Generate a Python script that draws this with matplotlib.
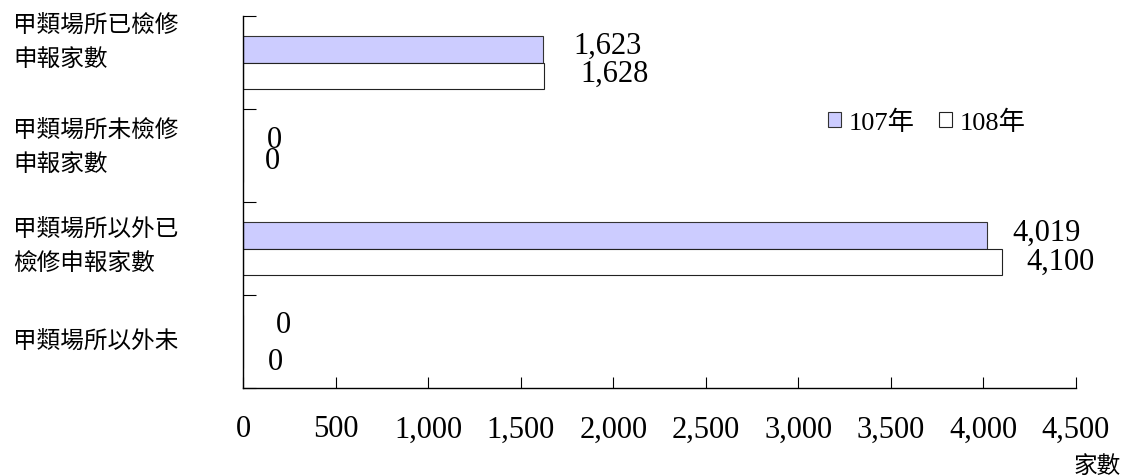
import matplotlib.pyplot as plt
from matplotlib.patches import Patch
from matplotlib.transforms import blended_transform_factory, offset_copy

plt.rcParams['font.family'] = ['Liberation Serif', 'Noto Sans CJK TC']

categories = ['甲類場所已檢修\n申報家數', '甲類場所未檢修\n申報家數',
              '甲類場所以外已\n檢修申報家數', '甲類場所以外未']
years = ['107年', '108年']
vals_107 = [1623, 0, 4019, 0]
vals_108 = [1628, 0, 4100, 0]
xticks = [0, 500, 1000, 1500, 2000, 2500, 3000, 3500, 4000, 4500]

# label tweaks (pixels), the original placement is a bit uneven
dx_107 = [64, 31, 60, 40]
dy_107 = [4, 3, 3, 4]
dx_108 = [70, 29, 59, 32]
dy_108 = [2, 8, 0, -7]
cat_dy = [21, 9, 3, 1]

fig = plt.figure(figsize=(11.26, 4.77), dpi=100)
ax = fig.add_axes([243 / 1126, 88 / 477, 833 / 1126, 372 / 477])

y = list(range(len(categories)))
h = 0.28
y107 = [v - h / 2 for v in y]
y108 = [v + h / 2 for v in y]
ax.barh(y107, vals_107, height=h, color='#CCCCFF', edgecolor='#333333', linewidth=0.8, label=years[0])
ax.barh(y108, vals_108, height=h, color='white', edgecolor='#222222', linewidth=0.8, label=years[1])

ax.set_xlim(0, 4500)
ax.set_ylim(3.5, -0.5)
ax.set_xticks(xticks)
ax.set_xticklabels([f'{t:,}' for t in xticks], fontsize=22)
ax.set_yticks([-0.5, 0.5, 1.5, 2.5, 3.5])
ax.set_yticklabels([])
ax.tick_params(axis='x', direction='in', length=8, width=0.8, pad=19)
ax.tick_params(axis='y', direction='in', length=9, width=0.8)
for s in ['top', 'right']:
    ax.spines[s].set_visible(False)
for s in ['left', 'bottom']:
    ax.spines[s].set_linewidth(1.0)
    ax.spines[s].set_color('black')

# value labels
for vals, ys, dxs, dys in [(vals_107, y107, dx_107, dy_107), (vals_108, y108, dx_108, dy_108)]:
    for v, yy, dx, dy in zip(vals, ys, dxs, dys):
        tr = offset_copy(ax.transData, fig=fig, x=dx, y=dy, units='dots')
        ax.text(v, yy, f'{v:,}', transform=tr, ha='center', va='center', fontsize=22)

# category labels
bt = blended_transform_factory(fig.transFigure, ax.transData)
for i, c in enumerate(categories):
    tr = offset_copy(bt, fig=fig, x=0, y=cat_dy[i], units='dots')
    ax.text(13 / 1126, y[i], c, transform=tr, ha='left', va='center',
            fontsize=17, family='Noto Sans CJK TC', linespacing=1.6)

handles = [Patch(facecolor='#CCCCFF', edgecolor='#333333', linewidth=0.8),
           Patch(facecolor='white', edgecolor='#222222', linewidth=0.8)]
fig.legend(handles, years, loc='center left', bbox_to_anchor=(828 / 1126, 1 - 123 / 477),
           ncol=2, frameon=False, fontsize=19, handlelength=0.5, handleheight=0.5,
           handletextpad=0.3, columnspacing=0.9, borderpad=0, borderaxespad=0)

fig.text(1097 / 1126, 1 - 466 / 477, '家數', ha='center', va='center',
         fontsize=17, family='Noto Sans CJK TC')

fig.savefig('out.png', dpi=100)
